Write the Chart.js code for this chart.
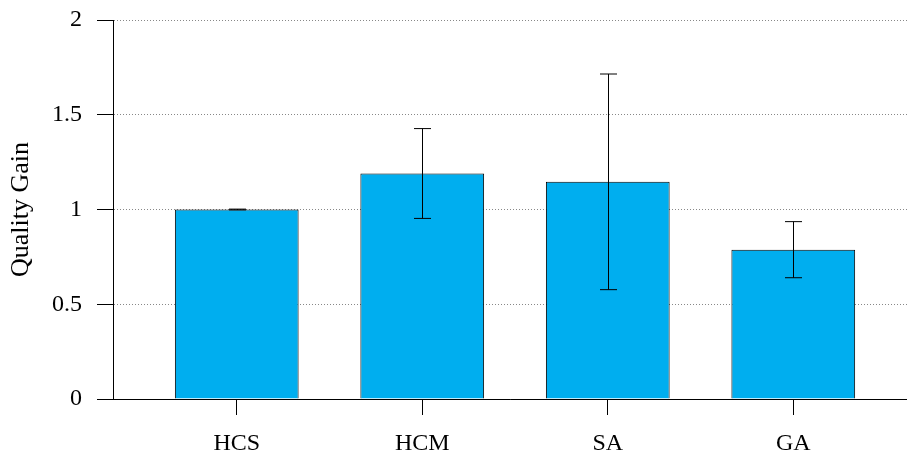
<!DOCTYPE html>
<html>
<head>
<meta charset="utf-8">
<script src="https://cdn.jsdelivr.net/npm/chart.js@4/dist/chart.umd.min.js"></script>
<style>
  html, body { margin: 0; padding: 0; background: #fff; }
  #wrap { width: 907px; height: 455px; }
</style>
</head>
<body>
<div id="wrap"><canvas id="c" width="907" height="455"></canvas></div>
<script>
const categories = ['HCS', 'HCM', 'SA', 'GA'];
const gains = [1.0, 1.19, 1.146, 0.788];
const errors = [0.002, 0.237, 0.569, 0.148];
const yTicks = [0, 0.5, 1, 1.5, 2];

const FONT = { family: '"Liberation Serif", "Times New Roman", serif', size: 24 };

const errorBars = {
  id: 'errorBars',
  afterDatasetsDraw(chart) {
    const ctx = chart.ctx;
    const xs = chart.scales.x, ys = chart.scales.y;
    ctx.save();
    ctx.strokeStyle = '#000';
    ctx.lineWidth = 1;
    gains.forEach((g, i) => {
      const x = Math.round(xs.getPixelForValue(i)) + 0.5;
      const yHi = ys.getPixelForValue(g + errors[i]);
      const yLo = ys.getPixelForValue(g - errors[i]);
      ctx.beginPath();
      ctx.moveTo(x, yHi); ctx.lineTo(x, yLo);
      ctx.moveTo(x - 8.5, yHi); ctx.lineTo(x + 8.5, yHi);
      ctx.moveTo(x - 8.5, yLo); ctx.lineTo(x + 8.5, yLo);
      ctx.stroke();
    });
    ctx.restore();
  }
};

new Chart(document.getElementById('c'), {
  type: 'bar',
  data: {
    datasets: [{
      data: gains.map((v, i) => ({ x: i, y: v })),
      backgroundColor: '#00AEEF',
      borderColor: '#000',
      borderWidth: 1,
      barPercentage: 1,
      categoryPercentage: 0.667
    }]
  },
  options: {
    responsive: false,
    animation: false,
    devicePixelRatio: 1,
    layout: { padding: { top: 20, right: 0, left: 0, bottom: 0 } },
    plugins: { legend: { display: false }, tooltip: { enabled: false } },
    scales: {
      x: {
        type: 'linear',
        offset: false,
        min: -0.667,
        max: 3.613,
        afterBuildTicks(scale) { scale.ticks = categories.map((c, i) => ({ value: i })); },
        afterFit(scale) { scale.height = 56; scale.paddingLeft = 0; scale.paddingRight = 0; },
        ticks: {
          font: FONT,
          color: '#000',
          padding: 14,
          autoSkip: false,
          maxRotation: 0,
          callback: (v) => categories[v]
        },
        grid: {
          offset: false,
          drawOnChartArea: false,
          drawTicks: true,
          tickLength: 16,
          tickColor: '#000',
          color: '#000'
        },
        border: { display: true, color: '#000', width: 1 }
      },
      y: {
        min: 0,
        max: 2,
        afterBuildTicks(scale) { scale.ticks = yTicks.map(v => ({ value: v })); },
        afterFit(scale) { scale.width = 113; scale.paddingTop = 0; scale.paddingBottom = 0; },
        ticks: {
          font: FONT,
          color: '#000',
          padding: 15,
          callback: (v) => String(v)
        },
        grid: {
          color: '#888',
          lineWidth: 1,
          drawTicks: true,
          tickLength: 16,
          tickColor: '#000',
          tickBorderDash: []
        },
        border: { display: true, color: '#000', width: 1, dash: [1, 2] },
        title: {
          display: true,
          text: 'Quality Gain',
          font: { family: FONT.family, size: 26 },
          color: '#000',
          padding: { top: 6, bottom: 0 }
        }
      }
    }
  },
  plugins: [errorBars]
});
</script>
</body>
</html>
